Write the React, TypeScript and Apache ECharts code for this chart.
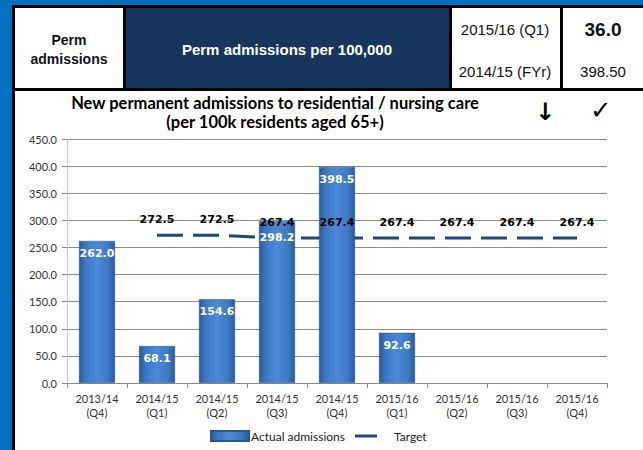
import React, { useEffect, useRef } from "react";
import * as echarts from "echarts";

const categories = [
  "2013/14\n(Q4)",
  "2014/15\n(Q1)",
  "2014/15\n(Q2)",
  "2014/15\n(Q3)",
  "2014/15\n(Q4)",
  "2015/16\n(Q1)",
  "2015/16\n(Q2)",
  "2015/16\n(Q3)",
  "2015/16\n(Q4)",
];
const actualAdmissions: (number | null)[] = [262.0, 68.1, 154.6, 298.2, 398.5, 92.6, null, null, null];
const targetValues: (number | null)[] = [null, 272.5, 272.5, 267.4, 267.4, 267.4, 267.4, 267.4, 267.4];
const yTicks = { min: 0, max: 450, interval: 50 };

const headerTitle = "Perm admissions per 100,000";
const headerLeft = ["Perm", "admissions"];
const periodLabels = ["2015/16 (Q1)", "2014/15 (FYr)"];
const periodValues = ["36.0", "398.50"];
const chartTitle = ["New permanent admissions to residential / nursing care", "(per 100k residents aged 65+)"];

export default function App() {
  const ref = useRef<HTMLDivElement>(null);
  useEffect(() => {
    if (!ref.current) return;
    const chart = echarts.init(ref.current, undefined, { renderer: "svg" });
    const barGrad = new echarts.graphic.LinearGradient(0, 0, 1, 0, [
      { offset: 0, color: "#2b5a97" },
      { offset: 0.18, color: "#3d78c4" },
      { offset: 0.5, color: "#4a8ad8" },
      { offset: 0.82, color: "#3d78c4" },
      { offset: 1, color: "#2b5a97" },
    ]);
    const chartFont = "Lato, 'Liberation Sans', sans-serif";
    const headerFont = "'Liberation Sans', Arial, sans-serif";
    const labelFont = "'DejaVu Sans', Verdana, sans-serif";
    chart.setOption({
      animation: false,
      backgroundColor: "#0070c0",
      grid: { left: 67, right: 36, top: 139, bottom: 67, containLabel: false },
      graphic: [
        { type: "rect", z: -10, shape: { x: 12, y: 5, width: 640, height: 450 }, style: { fill: "#000" } },
        { type: "rect", z: -9, shape: { x: 15, y: 8, width: 108, height: 80 }, style: { fill: "#fff" } },
        { type: "rect", z: -9, shape: { x: 126, y: 8, width: 323, height: 80 }, style: { fill: "#17365d" } },
        { type: "rect", z: -9, shape: { x: 452, y: 8, width: 108, height: 80 }, style: { fill: "#fff" } },
        { type: "rect", z: -9, shape: { x: 563, y: 8, width: 90, height: 80 }, style: { fill: "#fff" } },
        { type: "rect", z: -9, shape: { x: 15, y: 91, width: 640, height: 370 }, style: { fill: "#fff" } },
        {
          type: "text", z: 10, x: 69, y: 40,
          style: { text: headerLeft[0], font: `bold 14px ${headerFont}`, fill: "#111", align: "center", verticalAlign: "middle" },
        },
        {
          type: "text", z: 10, x: 69, y: 59,
          style: { text: headerLeft[1], font: `bold 14px ${headerFont}`, fill: "#111", align: "center", verticalAlign: "middle" },
        },
        {
          type: "text", z: 10, x: 287, y: 49,
          style: { text: headerTitle, font: `bold 15px ${headerFont}`, fill: "#fff", align: "center", verticalAlign: "middle" },
        },
        {
          type: "text", z: 10, x: 505, y: 29,
          style: { text: periodLabels[0], font: `15px ${headerFont}`, fill: "#111", align: "center", verticalAlign: "middle" },
        },
        {
          type: "text", z: 10, x: 505, y: 71,
          style: { text: periodLabels[1], font: `15px ${headerFont}`, fill: "#111", align: "center", verticalAlign: "middle" },
        },
        {
          type: "text", z: 10, x: 603, y: 29,
          style: { text: periodValues[0], font: `bold 19px ${headerFont}`, fill: "#111", align: "center", verticalAlign: "middle" },
        },
        {
          type: "text", z: 10, x: 603, y: 71,
          style: { text: periodValues[1], font: `15px ${headerFont}`, fill: "#111", align: "center", verticalAlign: "middle" },
        },
        {
          type: "text", z: 10, x: 275, y: 103,
          style: { text: chartTitle[0], font: `bold 16.5px ${chartFont}`, fill: "#000", align: "center", verticalAlign: "middle" },
        },
        {
          type: "text", z: 10, x: 275, y: 122,
          style: { text: chartTitle[1], font: `bold 16.5px ${chartFont}`, fill: "#000", align: "center", verticalAlign: "middle" },
        },
        {
          type: "text", z: 10, x: 545, y: 112,
          style: { text: "↓", font: `bold 24px 'DejaVu Sans', sans-serif`, fill: "#000", align: "center", verticalAlign: "middle" },
        },
        {
          type: "text", z: 10, x: 601, y: 110,
          style: { text: "✓", font: `bold 26px 'DejaVu Sans', sans-serif`, fill: "#000", align: "center", verticalAlign: "middle" },
        },
      ],
      legend: [
        {
          data: [{ name: "Actual admissions", icon: "rect" }],
          left: 210,
          top: 430,
          padding: 0,
          itemWidth: 38,
          itemHeight: 10,
          textStyle: { fontFamily: chartFont, fontSize: 12, color: "#222", padding: [0, 0, 0, -3] },
        },
        {
          data: [{ name: "Target", icon: "rect", itemStyle: { color: "#1f497d" } }],
          left: 355,
          top: 430,
          padding: 0,
          itemWidth: 22,
          itemHeight: 3,
          textStyle: { fontFamily: chartFont, fontSize: 12, color: "#222", padding: [0, 0, 0, 12] },
        },
      ],
      xAxis: {
        type: "category",
        data: categories,
        boundaryGap: true,
        axisLine: { lineStyle: { color: "#8c8c8c" } },
        axisTick: { show: true, length: 5, lineStyle: { color: "#8c8c8c" } },
        axisLabel: { fontFamily: chartFont, fontSize: 11, color: "#333", lineHeight: 14, margin: 8, interval: 0 },
      },
      yAxis: {
        type: "value",
        min: yTicks.min,
        max: yTicks.max,
        interval: yTicks.interval,
        axisLine: { show: true, lineStyle: { color: "#c8c8c8" } },
        axisTick: { show: true, length: 5, lineStyle: { color: "#8c8c8c" } },
        axisLabel: { fontFamily: chartFont, fontSize: 11, color: "#333", margin: 10, formatter: (v: number) => v.toFixed(1) },
        splitLine: { lineStyle: { color: "#8c8c8c" } },
      },
      series: [
        {
          name: "Target",
          type: "line",
          data: targetValues,
          z: 1,
          symbol: "none",
          connectNulls: false,
          lineStyle: { color: "#1f497d", width: 3, type: [26, 10] },
          itemStyle: { color: "#1f497d" },
        },
        {
          name: "Actual admissions",
          type: "bar",
          data: actualAdmissions.map((v, i) => (i === 3 ? { value: v, label: { offset: [0, 4] } } : v)),
          barWidth: 36,
          z: 3,
          itemStyle: { color: barGrad, borderColor: "#2a5590", borderWidth: 0.5 },
          label: {
            show: true,
            position: "insideTop",
            distance: 7,
            color: "#fff",
            fontFamily: labelFont,
            fontWeight: "bold",
            fontSize: 11,
            formatter: (p: any) => (p.value == null ? "" : Number(p.value).toFixed(1)),
          },
        },
        {
          name: "TargetLabels",
          type: "line",
          data: targetValues,
          z: 5,
          symbol: "circle",
          symbolSize: 1,
          lineStyle: { width: 0, opacity: 0 },
          itemStyle: { color: "transparent" },
          label: {
            show: true,
            position: "top",
            distance: 10,
            color: "#000",
            fontFamily: labelFont,
            fontWeight: "bold",
            fontSize: 11,
            formatter: (p: any) => (p.value == null ? "" : Number(p.value).toFixed(1)),
          },
          tooltip: { show: false },
        },
      ],
    });
    return () => chart.dispose();
  }, []);
  return <div ref={ref} style={{ position: "fixed", left: 0, top: 0, width: 643, height: 450 }} />;
}
